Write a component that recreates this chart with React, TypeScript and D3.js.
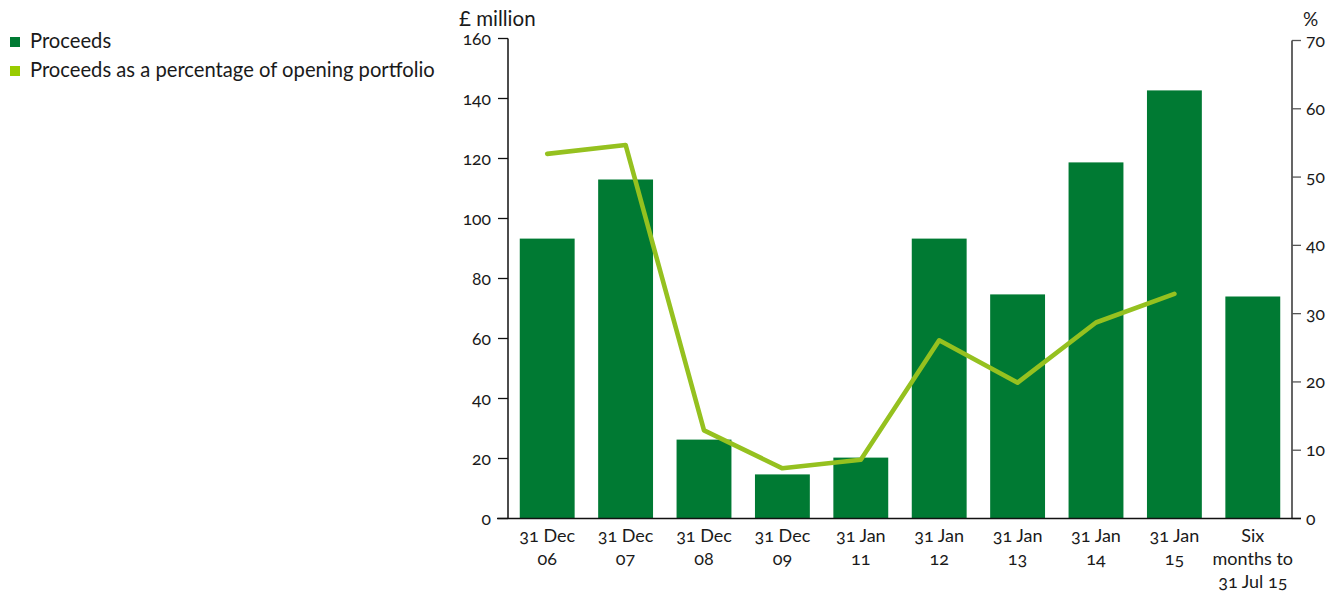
import React from "react";
import * as d3 from "d3";

const categories: string[][] = [
  ["31 Dec", "06"],
  ["31 Dec", "07"],
  ["31 Dec", "08"],
  ["31 Dec", "09"],
  ["31 Jan", "11"],
  ["31 Jan", "12"],
  ["31 Jan", "13"],
  ["31 Jan", "14"],
  ["31 Jan", "15"],
  ["Six", "months to", "31 Jul 15"],
];
const proceeds: number[] = [93.3, 113, 26.3, 14.7, 20.3, 93.3, 74.7, 118.7, 142.7, 74];
const percentage: (number | null)[] = [53.4, 54.7, 12.9, 7.35, 8.6, 26.1, 19.9, 28.7, 32.9, null];
const leftTicks: number[] = [0, 20, 40, 60, 80, 100, 120, 140, 160];
const rightTicks: number[] = [0, 10, 20, 30, 40, 50, 60, 70];
const legendLabels: string[] = ["Proceeds", "Proceeds as a percentage of opening portfolio"];

const BAR = "#007a33";
const LINE = "#95c11f";
const LEGEND_LIGHT = "#99cc00";
const FONT = "Lato, 'Open Sans', sans-serif";

export default function App() {
  const W = 1329, H = 592;
  const xLeft = 508, xRight = 1292;
  const y0 = 518.5;
  const x = d3.scaleBand<number>().domain(d3.range(categories.length)).range([xLeft, xRight]).paddingInner(0.3).paddingOuter(0.15);
  const yL = d3.scaleLinear().domain([0, 160]).range([y0, y0 - 480]);
  const yR = d3.scaleLinear().domain([0, 70]).range([y0, y0 - 478]);
  const line = d3.line<[number, number | null]>()
    .defined((d) => d[1] != null)
    .x((d) => (x(d[0]) as number) + x.bandwidth() / 2)
    .y((d) => yR(d[1] as number));
  const linePts: [number, number | null][] = percentage.map((v, i) => [i, v]);
  const txt = "#1a1a1a";
  const numStyle: React.CSSProperties = { fontVariantNumeric: "oldstyle-nums" };

  return (
    <svg width={W} height={H} style={{ position: "absolute", left: 0, top: 0, fontFamily: FONT }}>
      {/* legend */}
      {legendLabels.map((l, i) => (
        <g key={l} transform={`translate(10, ${37 + i * 29})`}>
          <rect width={10} height={10} fill={i === 0 ? BAR : LEGEND_LIGHT} />
          <text x={20} y={10.5} fontSize={20.2} fill={txt}>{l}</text>
        </g>
      ))}
      {/* bars */}
      {proceeds.map((v, i) => (
        <rect key={i} x={x(i)} y={yL(v)} width={x.bandwidth()} height={y0 - yL(v)} fill={BAR} />
      ))}
      {/* line */}
      <path d={line(linePts) || ""} fill="none" stroke={LINE} strokeWidth={4.6} strokeLinejoin="round" strokeLinecap="round" />
      {/* left axis */}
      <line x1={xLeft} x2={xLeft} y1={yL(160)} y2={y0} stroke="#111" strokeWidth={1.5} />
      {leftTicks.map((t) => (
        <g key={t}>
          <line x1={xLeft - 10} x2={xLeft} y1={yL(t)} y2={yL(t)} stroke="#111" strokeWidth={1.3} />
          <text x={xLeft - 17} y={yL(t)} dy="0.35em" textAnchor="end" fontSize={17.5} fill={txt} style={numStyle}>{t}</text>
        </g>
      ))}
      <text x={459} y={26} fontSize={20.5} fill={txt}>£ million</text>
      {/* right axis */}
      <line x1={xRight} x2={xRight} y1={yR(70)} y2={y0} stroke="#555" strokeWidth={1.8} />
      {rightTicks.map((t) => (
        <g key={t}>
          <line x1={xRight} x2={xRight + 9} y1={yR(t)} y2={yR(t)} stroke="#555" strokeWidth={1.3} />
          <text x={xRight + 14} y={yR(t)} dy="0.35em" textAnchor="start" fontSize={17.5} fill={txt} style={numStyle}>{t}</text>
        </g>
      ))}
      <text x={1303} y={26} fontSize={19} fill={txt}>%</text>
      {/* x axis */}
      <line x1={xLeft - 11} x2={xRight + 9} y1={y0} y2={y0} stroke="#111" strokeWidth={1.5} />
      {categories.map((lines, i) => (
        <text key={i} x={(x(i) as number) + x.bandwidth() / 2} y={542} textAnchor="middle" fontSize={18} fill={txt} style={numStyle}>
          {lines.map((s, j) => (
            <tspan key={j} x={(x(i) as number) + x.bandwidth() / 2} dy={j === 0 ? 0 : 23}>{s}</tspan>
          ))}
        </text>
      ))}
    </svg>
  );
}
